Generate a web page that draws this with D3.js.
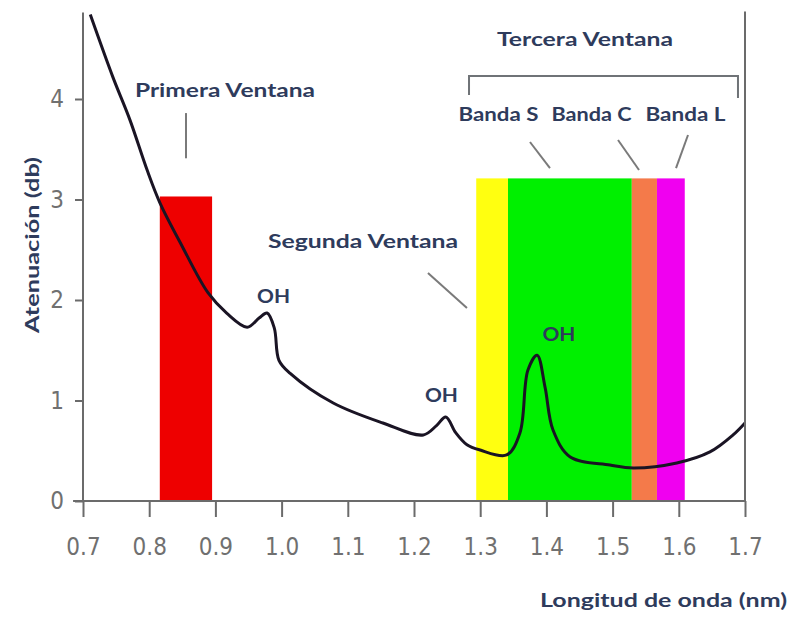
<!DOCTYPE html>
<html>
<head>
<meta charset="utf-8">
<script src="https://cdn.jsdelivr.net/npm/d3@7"></script>
<style>
  body { margin: 0; background: #fff; }
  .lbl { font-family: Lato, "Open Sans", sans-serif; font-weight: bold; fill: #2e3b5c; }
  .tick text { font-family: "Liberation Sans Narrow", "DejaVu Sans Condensed", "Liberation Sans", sans-serif; font-stretch: condensed; fill: #707070; }
</style>
</head>
<body>
<div id="chart"></div>
<script>
var width = 789, height = 617;

// attenuation curve (wavelength um, dB)
var wl   = [0.711, 0.745, 0.771, 0.797, 0.816, 0.847, 0.889, 0.917, 0.948, 0.966, 0.978, 0.989, 0.996, 1.013,
            1.078, 1.153, 1.214, 1.234, 1.248, 1.263, 1.280, 1.300, 1.340, 1.360, 1.372, 1.386, 1.398, 1.410,
            1.436, 1.496, 1.531, 1.597, 1.647, 1.682, 1.700];
var att  = [4.84, 4.22, 3.79, 3.29, 2.97, 2.57, 2.07, 1.87, 1.73, 1.82, 1.87, 1.72, 1.40, 1.27,
            0.975, 0.776, 0.657, 0.75, 0.836, 0.68, 0.56, 0.507, 0.458, 0.677, 1.30, 1.45, 1.13, 0.706,
            0.438, 0.358, 0.328, 0.378, 0.488, 0.657, 0.776];

// windows / bands
var bandNames = ["Primera", "S0", "S", "C", "L"];
var bandStart = [0.816, 1.294, 1.342, 1.529, 1.567];
var bandEnd   = [0.895, 1.342, 1.529, 1.567, 1.609];
var bandTop   = [3.03, 3.21, 3.21, 3.21, 3.21];
var bandColor = ["#ee0000", "#ffff10", "#00f000", "#f47a4a", "#f000f0"];

var xTicks = [0.7, 0.8, 0.9, 1.0, 1.1, 1.2, 1.3, 1.4, 1.5, 1.6, 1.7];
var yTicks = [0, 1, 2, 3, 4];

// annotation texts: label, x, y (data), width px
var labText = ["Primera Ventana", "Segunda Ventana", "Tercera Ventana", "Banda S", "Banda C", "Banda L", "OH", "OH", "OH"];
var labX    = [0.9145, 1.123, 1.4583, 1.3276, 1.4681, 1.6101, 0.9878, 1.2415, 1.419];
var labY    = [4.02, 2.517, 4.527, 3.781, 3.781, 3.781, 1.970, 0.985, 1.592];
var labW    = [180, 190, 176, 80, 80, 80, 33, 33, 33];

// leader lines [x1, y1, x2, y2]
var leaders = [
  [0.8556, 3.86, 0.8556, 3.41],
  [1.2211, 2.269, 1.280, 1.920],
  [1.3752, 3.572, 1.4054, 3.313],
  [1.5082, 3.592, 1.5399, 3.294],
  [1.6139, 3.642, 1.5958, 3.313]
];
var bracketX = [1.2831, 1.6894], bracketY = [4.229, 4.04];

var svg = d3.select("#chart")
  .append("svg")
    .attr("width", width)
    .attr("height", height);

var x = d3.scaleLinear().domain([0.7, 1.7]).range([83, 745]);
var y = d3.scaleLinear().domain([0, 4]).range([501, 99]);

var bands = bandNames.map(function(n, i) {
  return {name: n, x0: bandStart[i], x1: bandEnd[i], top: bandTop[i], color: bandColor[i]};
});

svg.selectAll("rect.band")
  .data(bands)
  .enter()
  .append("rect")
    .attr("class", "band")
    .attr("x", function(d) { return x(d.x0); })
    .attr("width", function(d) { return x(d.x1) - x(d.x0); })
    .attr("y", function(d) { return y(d.top); })
    .attr("height", function(d) { return y(0) - y(d.top); })
    .style("fill", function(d) { return d.color; });

var pts = wl.map(function(w, i) { return [w, att[i]]; });

svg.append("path")
  .datum(pts)
  .attr("d", d3.line()
    .x(function(d) { return x(d[0]); })
    .y(function(d) { return y(d[1]); })
    .curve(d3.curveCatmullRom.alpha(0.5)))
  .style("fill", "none")
  .style("stroke", "#1a1424")
  .style("stroke-width", 3);

// axes
var axisColor = "#6b6b6b";

var xAxis = svg.append("g")
  .attr("transform", "translate(0," + y(0) + ")")
  .call(d3.axisBottom(x).tickValues(xTicks).tickSize(16).tickPadding(21).tickSizeOuter(0)
    .tickFormat(d3.format(".1f")));
xAxis.select(".domain").remove();
xAxis.selectAll(".tick line").style("stroke", axisColor).style("stroke-width", 2);
xAxis.selectAll(".tick text").style("font-size", "24px");

var yAxis = svg.append("g")
  .attr("transform", "translate(" + x(0.7) + ",0)")
  .call(d3.axisLeft(y).tickValues(yTicks).tickSize(8).tickPadding(11).tickSizeOuter(0)
    .tickFormat(d3.format("d")));
yAxis.select(".domain").remove();
yAxis.selectAll(".tick line").style("stroke", axisColor).style("stroke-width", 2);
yAxis.selectAll(".tick text").style("font-size", "24px");

// axis lines + right frame
svg.append("line")
  .attr("x1", x(0.685)).attr("x2", x(1.7))
  .attr("y1", y(0)).attr("y2", y(0))
  .style("stroke", axisColor).style("stroke-width", 2);
svg.append("line")
  .attr("x1", x(0.7)).attr("x2", x(0.7))
  .attr("y1", y(0)).attr("y2", y(4.86))
  .style("stroke", axisColor).style("stroke-width", 2);
svg.append("line")
  .attr("x1", x(1.7)).attr("x2", x(1.7))
  .attr("y1", y(0)).attr("y2", y(4.87))
  .style("stroke", axisColor).style("stroke-width", 2);

// leader lines
svg.selectAll("line.leader")
  .data(leaders)
  .enter()
  .append("line")
    .attr("x1", function(d) { return x(d[0]); })
    .attr("y1", function(d) { return y(d[1]); })
    .attr("x2", function(d) { return x(d[2]); })
    .attr("y2", function(d) { return y(d[3]); })
    .style("stroke", "#7a7a7a")
    .style("stroke-width", 2);

// bracket for tercera ventana
svg.append("path")
  .attr("d", d3.line()([
    [x(bracketX[0]), y(bracketY[1])],
    [x(bracketX[0]), y(bracketY[0])],
    [x(bracketX[1]), y(bracketY[0])],
    [x(bracketX[1]), y(bracketY[1] - 0.03)]
  ]))
  .style("fill", "none")
  .style("stroke", "#6f7377")
  .style("stroke-width", 2);

// labels
svg.selectAll("text.ann")
  .data(labText)
  .enter()
  .append("text")
    .attr("class", "lbl ann")
    .attr("x", function(d, i) { return x(labX[i]) - labW[i] / 2; })
    .attr("y", function(d, i) { return y(labY[i]); })
    .attr("textLength", function(d, i) { return labW[i]; })
    .attr("lengthAdjust", "spacingAndGlyphs")
    .style("font-size", "19px")
    .text(function(d) { return d; });

// axis titles
svg.append("text")
  .attr("class", "lbl")
  .attr("x", 540).attr("y", 607)
  .attr("textLength", 247)
  .attr("lengthAdjust", "spacingAndGlyphs")
  .style("font-size", "18px")
  .text("Longitud de onda (nm)");

svg.append("text")
  .attr("class", "lbl")
  .attr("transform", "translate(39,333) rotate(-90)")
  .attr("textLength", 176)
  .attr("lengthAdjust", "spacingAndGlyphs")
  .style("font-size", "19px")
  .text("Atenuación (db)");
</script>
</body>
</html>
